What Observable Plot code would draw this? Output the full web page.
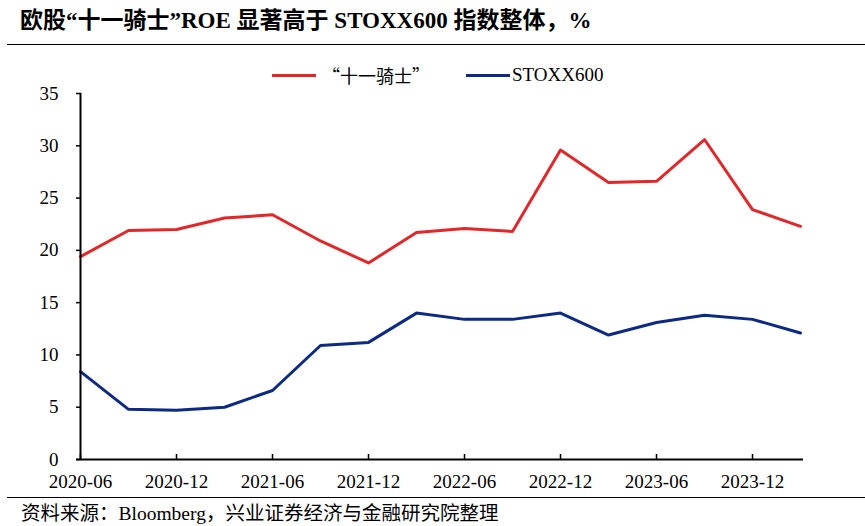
<!DOCTYPE html>
<html><head><meta charset="utf-8">
<script src="https://cdn.jsdelivr.net/npm/d3@7"></script>
<script src="https://cdn.jsdelivr.net/npm/@observablehq/plot@0.6"></script>
<style>
body{margin:0;background:#fff;}
#wrap{position:relative;width:865px;height:526px;font-family:"Liberation Serif","Noto Sans CJK SC",serif;color:#000;overflow:hidden;}
#title{position:absolute;left:20px;top:7px;font-size:23px;font-weight:bold;white-space:nowrap;line-height:27px;}
.hr{position:absolute;left:7px;width:858px;height:0;border-top:1.5px solid #000;}
.item{position:absolute;top:64px;height:22px;display:flex;align-items:center;white-space:nowrap;font-size:19px;}
.sw{display:inline-block;width:44px;height:3px;margin-right:6px;}
#chart{position:absolute;left:0;top:60px;}
#chart svg, #chart svg text{font-family:"Liberation Serif","Noto Sans CJK SC",serif !important;font-size:19px;}
#foot{position:absolute;left:21px;top:502px;font-size:19.5px;white-space:nowrap;line-height:23px;}
</style></head>
<body>
<div id="wrap">
  <div id="title"></div>
  <div class="hr" style="top:44px"></div>
  <div id="legend"></div>
  <div id="chart"></div>
  <div class="hr" style="top:497px"></div>
  <div id="foot"></div>
</div>
<script>
const titleText = "欧股“十一骑士”ROE 显著高于 STOXX600 指数整体，%";
const footText = "资料来源：Bloomberg，兴业证券经济与金融研究院整理";
const periods = ["2020-06","2020-09","2020-12","2021-03","2021-06","2021-09","2021-12","2022-03","2022-06","2022-09","2022-12","2023-03","2023-06","2023-09","2023-12","2024-03"];
const knights = [19.4,21.9,22.0,23.1,23.4,20.9,18.8,21.7,22.1,21.8,29.6,26.5,26.6,30.6,23.9,22.3];
const stoxx = [8.4,4.8,4.7,5.0,6.6,10.9,11.2,14.0,13.4,13.4,14.0,11.9,13.1,13.8,13.4,12.1];
const seriesNames = ["“十一骑士”","STOXX600"];
const seriesColors = ["#e0282a","#0c2a84"];
const xTicks = ["2020-06","2020-12","2021-06","2021-12","2022-06","2022-12","2023-06","2023-12"];
const yTicks = [0,5,10,15,20,25,30,35];

document.getElementById("title").textContent = titleText;
document.getElementById("foot").textContent = footText;

const legendPos = [272, 466];
const legend = document.getElementById("legend");
seriesNames.forEach((n,i)=>{
  const it = document.createElement("div");
  it.className = "item";
  it.style.left = legendPos[i] + "px";
  const sw = document.createElement("span");
  sw.className = "sw";
  sw.style.background = seriesColors[i];
  if (i === 1) sw.style.marginRight = "2px";
  const tx = document.createElement("span");
  tx.textContent = n;
  if (i === 0) { tx.style.fontFamily = '"Noto Sans CJK SC"'; tx.style.fontSize = "18px"; }
  it.appendChild(sw); it.appendChild(tx);
  legend.appendChild(it);
});

const data = [];
periods.forEach((p,i)=>{
  data.push({period:p, value:knights[i], series:seriesNames[0]});
  data.push({period:p, value:stoxx[i], series:seriesNames[1]});
});

const chart = Plot.plot({
  width: 865,
  height: 437,
  marginLeft: 76,
  marginRight: 62,
  marginTop: 33,
  marginBottom: 38,
  style: {fontFamily: '"Liberation Serif","Noto Sans CJK SC",serif', fontSize: "19px", color: "#000", background: "transparent"},
  x: {type: "point", domain: periods, padding: 0},
  y: {domain: [0, 35]},
  color: {domain: seriesNames, range: seriesColors},
  marks: [
    Plot.line(data, {x: "period", y: "value", stroke: "series", strokeWidth: 3, curve: "linear"}),
    Plot.ruleY([0], {stroke: "#000", strokeWidth: 2}),
    Plot.ruleX([periods[0]], {stroke: "#000", strokeWidth: 2}),
    Plot.axisY({ticks: yTicks, tickSize: -5, tickPadding: 23, label: null, strokeWidth: 1.5, fill: "#000", stroke: "#000", fontSize: 19}),
    Plot.axisX({ticks: xTicks, tickSize: -5, tickPadding: 20, label: null, strokeWidth: 1.5, fill: "#000", stroke: "#000", fontSize: 19})
  ]
});
document.getElementById("chart").appendChild(chart);
</script>
</body></html>
